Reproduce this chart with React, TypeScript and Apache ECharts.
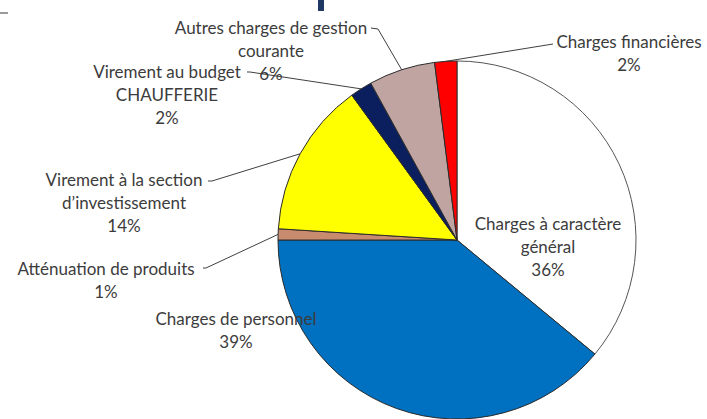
import React, { useEffect, useRef } from "react";
import * as echarts from "echarts";

const CATEGORIES = [
  "Charges à caractère\ngénéral",
  "Charges de personnel",
  "Atténuation de produits",
  "Virement à la section\nd’investissement",
  "Virement au budget\nCHAUFFERIE",
  "Autres charges de gestion\ncourante",
  "Charges financières",
];
const VALUES = [36, 39, 1, 14, 2, 6, 2];
const COLORS = ["#FFFFFF", "#0070C0", "#C98B6E", "#FFFF00", "#0B1F5E", "#C0A4A2", "#FF0000"];
const INSIDE = [true, true, false, false, false, false, false];

// label anchor positions (layout, px)
const LABEL_POS: [number, number][] = [
  [548, 246],
  [236, 330],
  [106, 280],
  [124, 202],
  [167, 94],
  [271, 50],
  [629, 53],
];
// where each leader line meets its label (layout, px): [bend, end]
const LINE_ATTACH: ([number, number][] | null)[] = [
  null,
  null,
  [[206, 268], [203, 268]],
  [[212, 181], [208, 181]],
  [[250, 72], [247, 72]],
  [[378, 29], [371, 28]],
  [[553, 44], [553, 44]],
];

export default function App() {
  const ref = useRef<HTMLDivElement>(null);
  useEffect(() => {
    if (!ref.current) return;
    const chart = echarts.init(ref.current, undefined, { renderer: "svg" });
    chart.setOption({
      animation: false,
      backgroundColor: "#ffffff",
      graphic: [
        { type: "rect", shape: { x: 318, y: 0, width: 6, height: 11 }, style: { fill: "#1F3864" } },
        { type: "rect", shape: { x: 0, y: 12, width: 8, height: 2 }, style: { fill: "#9a9a9a" } },
      ],
      series: [
        {
          type: "pie",
          center: [457, 240],
          radius: 179,
          startAngle: 90,
          clockwise: true,
          percentPrecision: 0,
          avoidLabelOverlap: false,
          itemStyle: { borderColor: "#2b2b2b", borderWidth: 1 },
          label: {
            show: true,
            position: "outside",
            formatter: "{b}\n{d}%",
            color: "#3c3c3c",
            fontFamily: "Lato",
            fontSize: 17,
            lineHeight: 23,
            align: "center",
          },
          labelLine: {
            show: true,
            length: 10,
            length2: 10,
            lineStyle: { color: "#404040", width: 1 },
          },
          labelLayout: (params: any) => {
            const i = params.dataIndex;
            const p = LABEL_POS[i];
            const out: any = { x: p[0], y: p[1], align: "center", verticalAlign: "middle" };
            const att = LINE_ATTACH[i];
            if (att && params.labelLinePoints && params.labelLinePoints.length) {
              const p0 = params.labelLinePoints[0];
              out.labelLinePoints = [[p0[0], p0[1]], att[0], att[1]];
            }
            return out;
          },
          data: CATEGORIES.map((name, i) => ({
            name,
            value: VALUES[i],
            itemStyle: { color: COLORS[i], borderColor: i === 0 ? "#555555" : "#2b2b2b" },
            labelLine: { show: !INSIDE[i] },
          })),
        },
      ],
    });
    return () => chart.dispose();
  }, []);
  return (
    <div
      ref={ref}
      style={{ position: "fixed", left: 0, top: 0, width: 707, height: 419 }}
    />
  );
}
